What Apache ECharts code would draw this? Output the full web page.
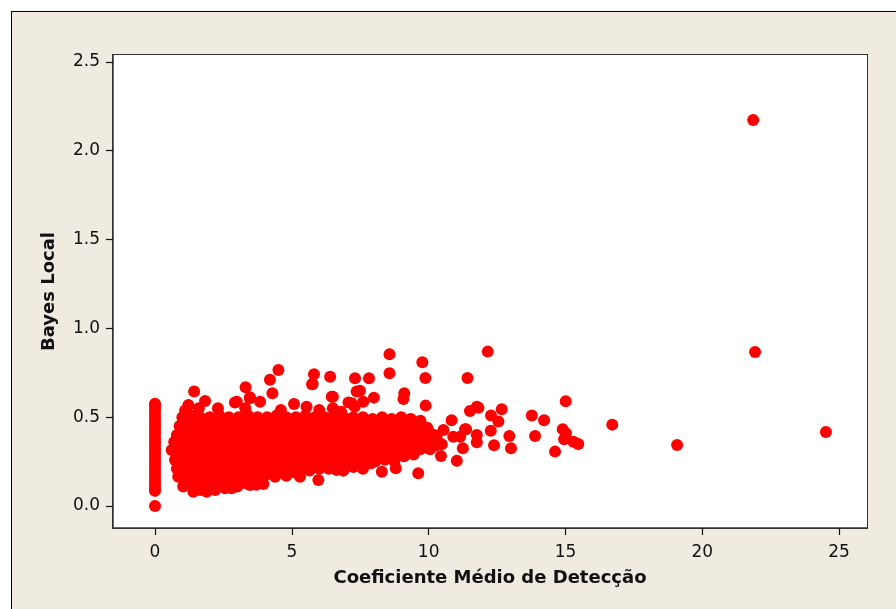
<!DOCTYPE html>
<html>
<head>
<meta charset="utf-8">
<script src="https://cdn.jsdelivr.net/npm/echarts@6/dist/echarts.min.js"></script>
<style>
  html, body { margin: 0; padding: 0; background: #fff; overflow: hidden; }
  #frame { position: absolute; left: 11px; top: 11px; width: 1000px; height: 1000px;
           border: 1px solid #000; background: #EFEBE1; }
  #plot { position: absolute; left: 112px; top: 54px; width: 756px; height: 475px;
          box-sizing: border-box; border: 1.5px solid #333; background: #fff; }
  #main { position: absolute; left: 0; top: 0; width: 896px; height: 609px; }
</style>
</head>
<body>
<div id="frame"></div>
<div id="plot"></div>
<div id="main"></div>
<script>
// tick labels
var xTicks = [0, 5, 10, 15, 20, 25];
var yTicks = [0, 0.5, 1.0, 1.5, 2.0, 2.5];

// pontos com coeficiente zero (coluna em x = 0)
var zeroColumn = [
  [0, 0.0], [0, 0.085], [0, 0.10], [0, 0.12], [0, 0.14], [0, 0.16], [0, 0.18], [0, 0.20],
  [0, 0.22], [0, 0.24], [0, 0.26], [0, 0.28], [0, 0.30], [0, 0.32], [0, 0.34], [0, 0.36],
  [0, 0.38], [0, 0.40], [0, 0.42], [0, 0.44], [0, 0.46], [0, 0.48], [0, 0.50], [0, 0.52],
  [0, 0.54], [0, 0.56], [0, 0.575]
];

// nuvem principal, parte de baixo
var cloudLow = [
  [1.03, 0.109], [1.4, 0.08], [1.65, 0.09], [1.89, 0.08], [2.2, 0.09], [2.56, 0.1], [2.8, 0.1],
  [3.01, 0.109], [3.47, 0.118], [3.7, 0.12], [3.96, 0.124],
  [0.85, 0.165], [1.15, 0.15], [1.5, 0.15], [1.85, 0.14], [2.2, 0.15], [2.55, 0.15], [2.9, 0.16],
  [3.25, 0.15], [3.6, 0.16], [3.95, 0.16], [4.39, 0.165], [4.8, 0.17], [5.3, 0.165], [5.97, 0.146],
  [0.8, 0.21], [1.1, 0.2], [1.45, 0.21], [1.8, 0.2], [2.15, 0.2], [2.5, 0.21], [2.85, 0.2],
  [3.2, 0.2], [3.55, 0.21], [3.9, 0.2], [4.25, 0.21], [4.6, 0.2], [4.95, 0.21], [5.3, 0.22],
  [5.65, 0.2], [6.0, 0.21], [6.35, 0.21], [6.64, 0.203], [6.88, 0.199], [7.25, 0.22], [7.6, 0.21],
  [8.29, 0.193], [8.8, 0.212], [9.62, 0.184],
  [0.73, 0.259], [1.05, 0.25], [1.4, 0.26], [1.75, 0.25], [2.1, 0.25], [2.45, 0.26], [2.8, 0.25],
  [3.15, 0.25], [3.5, 0.26], [3.85, 0.25], [4.2, 0.25], [4.55, 0.26], [4.9, 0.25], [5.25, 0.25],
  [5.6, 0.26], [5.95, 0.25], [6.3, 0.25], [6.65, 0.26], [7.0, 0.25], [7.35, 0.25], [7.7, 0.26],
  [8.05, 0.25], [8.4, 0.26], [8.75, 0.25], [9.1, 0.28], [9.45, 0.29]
];

// nuvem principal, parte do meio
var cloudMid = [
  [0.61, 0.315], [0.95, 0.3], [1.3, 0.3], [1.65, 0.31], [2.0, 0.3], [2.35, 0.3], [2.7, 0.31],
  [3.05, 0.3], [3.4, 0.3], [3.75, 0.31], [4.1, 0.3], [4.45, 0.3], [4.8, 0.31], [5.15, 0.3],
  [5.5, 0.3], [5.85, 0.31], [6.2, 0.3], [6.55, 0.3], [6.9, 0.31], [7.25, 0.3], [7.6, 0.3],
  [7.95, 0.31], [8.3, 0.3], [8.65, 0.3], [9.0, 0.31], [9.35, 0.31], [9.7, 0.32], [10.05, 0.32],
  [0.7, 0.36], [1.0, 0.35], [1.35, 0.35], [1.7, 0.36], [2.05, 0.35], [2.4, 0.35], [2.75, 0.36],
  [3.1, 0.35], [3.45, 0.35], [3.8, 0.36], [4.15, 0.35], [4.5, 0.35], [4.85, 0.36], [5.2, 0.35],
  [5.55, 0.35], [5.9, 0.36], [6.25, 0.35], [6.6, 0.35], [6.95, 0.36], [7.3, 0.35], [7.65, 0.35],
  [8.0, 0.36], [8.35, 0.35], [8.7, 0.35], [9.05, 0.36], [9.4, 0.35], [9.75, 0.36], [10.1, 0.36],
  [0.8, 0.4], [1.1, 0.4], [1.45, 0.41], [1.8, 0.4], [2.15, 0.4], [2.5, 0.41], [2.85, 0.4],
  [3.2, 0.4], [3.55, 0.41], [3.9, 0.4], [4.25, 0.4], [4.6, 0.41], [4.95, 0.4], [5.3, 0.4],
  [5.65, 0.41], [6.0, 0.4], [6.35, 0.4], [6.7, 0.41], [7.05, 0.4], [7.4, 0.4], [7.75, 0.41],
  [8.1, 0.4], [8.45, 0.4], [8.8, 0.41], [9.15, 0.4], [9.5, 0.4], [9.85, 0.41], [10.2, 0.4]
];

// nuvem principal, parte de cima
var cloudHigh = [
  [0.9, 0.45], [1.2, 0.45], [1.55, 0.46], [1.9, 0.45], [2.25, 0.45], [2.6, 0.46], [2.95, 0.45],
  [3.3, 0.45], [3.65, 0.46], [4.0, 0.45], [4.35, 0.45], [4.7, 0.46], [5.05, 0.45], [5.4, 0.45],
  [5.75, 0.46], [6.1, 0.45], [6.45, 0.45], [6.8, 0.46], [7.15, 0.45], [7.5, 0.45], [7.85, 0.46],
  [8.2, 0.45], [8.55, 0.45], [8.9, 0.46], [9.25, 0.45], [9.6, 0.44], [9.95, 0.44],
  [1.0, 0.5], [1.3, 0.51], [1.65, 0.5], [2.0, 0.5], [2.35, 0.51], [2.7, 0.5], [3.05, 0.5],
  [3.4, 0.51], [3.75, 0.5], [4.1, 0.5], [4.45, 0.51], [4.8, 0.5], [5.15, 0.5], [5.5, 0.51],
  [5.85, 0.5], [6.2, 0.5], [6.55, 0.51], [6.9, 0.5], [7.25, 0.5], [7.6, 0.5], [7.95, 0.49],
  [8.3, 0.5], [8.65, 0.49], [9.0, 0.5], [9.35, 0.49], [9.7, 0.48],
  [1.1, 0.537], [1.22, 0.569], [1.83, 0.591], [1.6, 0.55], [2.3, 0.55], [2.92, 0.582],
  [2.99, 0.587], [3.47, 0.606], [3.84, 0.587], [3.3, 0.55], [4.6, 0.54], [5.08, 0.574],
  [5.54, 0.559], [6.0, 0.54], [6.5, 0.55], [7.07, 0.582], [7.19, 0.578], [7.61, 0.587],
  [6.8, 0.53], [7.3, 0.56], [8.0, 0.61], [9.08, 0.602], [9.89, 0.565]
];

// pontos intercalados que fecham o miolo da nuvem
var cloudCore = [
  [1.2, 0.125], [1.55, 0.12], [1.9, 0.125], [2.25, 0.12], [2.6, 0.13], [2.95, 0.125],
  [3.3, 0.13], [3.65, 0.135],
  [0.97, 0.175], [1.32, 0.18], [1.67, 0.175], [2.02, 0.17], [2.37, 0.175], [2.72, 0.18],
  [3.07, 0.175], [3.42, 0.175], [3.77, 0.18], [4.12, 0.18], [4.47, 0.185], [4.82, 0.19], [5.1, 0.19],
  [0.92, 0.225], [1.27, 0.23], [1.62, 0.225], [1.97, 0.225], [2.32, 0.23], [2.67, 0.225],
  [3.02, 0.225], [3.37, 0.23], [3.72, 0.225], [4.07, 0.225], [4.42, 0.23], [4.77, 0.225],
  [5.12, 0.225], [5.47, 0.235], [5.82, 0.225], [6.17, 0.23], [6.52, 0.225], [6.87, 0.23],
  [7.22, 0.235], [7.57, 0.235], [7.9, 0.24],
  [0.88, 0.275], [1.22, 0.28], [1.57, 0.275], [1.92, 0.275], [2.27, 0.28], [2.62, 0.275],
  [2.97, 0.275], [3.32, 0.28], [3.67, 0.275], [4.02, 0.275], [4.37, 0.28], [4.72, 0.275],
  [5.07, 0.275], [5.42, 0.28], [5.77, 0.275], [6.12, 0.275], [6.47, 0.28], [6.82, 0.275],
  [7.17, 0.275], [7.52, 0.28], [7.87, 0.275], [8.22, 0.28], [8.57, 0.275], [8.92, 0.285], [9.27, 0.3],
  [0.78, 0.325], [1.12, 0.325], [1.47, 0.33], [1.82, 0.325], [2.17, 0.325], [2.52, 0.33],
  [2.87, 0.325], [3.22, 0.325], [3.57, 0.33], [3.92, 0.325], [4.27, 0.325], [4.62, 0.33],
  [4.97, 0.325], [5.32, 0.325], [5.67, 0.33], [6.02, 0.325], [6.37, 0.325], [6.72, 0.33],
  [7.07, 0.325], [7.42, 0.325], [7.77, 0.33], [8.12, 0.325], [8.47, 0.325], [8.82, 0.33],
  [9.17, 0.335], [9.52, 0.335], [9.87, 0.34], [10.25, 0.34],
  [0.82, 0.375], [1.17, 0.375], [1.52, 0.38], [1.87, 0.375], [2.22, 0.375], [2.57, 0.38],
  [2.92, 0.375], [3.27, 0.375], [3.62, 0.38], [3.97, 0.375], [4.32, 0.375], [4.67, 0.38],
  [5.02, 0.375], [5.37, 0.375], [5.72, 0.38], [6.07, 0.375], [6.42, 0.375], [6.77, 0.38],
  [7.12, 0.375], [7.47, 0.375], [7.82, 0.38], [8.17, 0.375], [8.52, 0.375], [8.87, 0.38],
  [9.22, 0.375], [9.57, 0.38], [9.92, 0.385], [10.3, 0.38],
  [0.95, 0.425], [1.27, 0.425], [1.62, 0.43], [1.97, 0.425], [2.32, 0.425], [2.67, 0.43],
  [3.02, 0.425], [3.37, 0.425], [3.72, 0.43], [4.07, 0.425], [4.42, 0.425], [4.77, 0.43],
  [5.12, 0.425], [5.47, 0.425], [5.82, 0.43], [6.17, 0.425], [6.52, 0.425], [6.87, 0.43],
  [7.22, 0.425], [7.57, 0.425], [7.92, 0.43], [8.27, 0.425], [8.62, 0.43], [8.97, 0.425],
  [9.32, 0.425], [9.67, 0.42], [10.0, 0.42],
  [1.12, 0.475], [1.47, 0.475], [1.82, 0.48], [2.17, 0.475], [2.52, 0.475], [2.87, 0.48],
  [3.22, 0.475], [3.57, 0.475], [3.92, 0.48], [4.27, 0.475], [4.62, 0.475], [4.97, 0.48],
  [5.32, 0.475], [5.67, 0.475], [6.02, 0.48], [6.37, 0.475], [6.72, 0.475], [7.07, 0.48],
  [7.42, 0.475], [7.77, 0.47], [8.12, 0.475], [8.47, 0.47], [8.82, 0.47], [9.17, 0.47], [9.5, 0.465]
];

// pontos dispersos acima da nuvem
var scatterUpper = [
  [1.43, 0.644], [3.31, 0.668], [3.47, 0.612], [4.2, 0.71], [4.29, 0.634], [4.51, 0.766],
  [5.74, 0.685], [5.81, 0.741], [5.76, 0.687], [6.4, 0.728], [6.46, 0.615], [6.5, 0.615],
  [7.31, 0.719], [7.37, 0.644], [7.49, 0.649], [7.82, 0.719], [8.57, 0.747], [8.57, 0.854],
  [9.11, 0.634], [9.77, 0.809], [9.88, 0.72]
];

// cauda à direita
var tailRight = [
  [10.45, 0.282], [10.48, 0.347], [10.54, 0.428], [10.84, 0.483], [10.9, 0.39], [11.03, 0.255],
  [11.15, 0.39], [11.25, 0.325], [11.33, 0.432], [11.37, 0.432], [11.42, 0.72], [11.51, 0.535],
  [11.76, 0.359], [11.76, 0.40], [11.76, 0.559], [11.82, 0.553], [12.16, 0.869], [12.27, 0.424],
  [12.28, 0.51], [12.39, 0.342], [12.55, 0.475], [12.67, 0.544], [12.95, 0.394], [13.01, 0.325],
  [13.77, 0.51], [13.89, 0.394], [14.22, 0.483], [14.62, 0.306], [14.9, 0.432], [14.95, 0.376],
  [15.01, 0.59], [15.02, 0.41], [15.29, 0.362], [15.47, 0.349], [16.71, 0.458], [19.08, 0.343],
  [21.86, 2.173], [21.93, 0.867], [24.52, 0.417]
];

var allPoints = [].concat(zeroColumn, cloudLow, cloudMid, cloudCore, cloudHigh, scatterUpper, tailRight);

var chart = echarts.init(document.getElementById('main'));

var option = {
  backgroundColor: 'transparent',
  animation: false,
  grid: { left: 113, top: 55, right: 29, bottom: 81 },
  xAxis: {
    type: 'value',
    min: -1.535, max: 26.02,
    name: 'Coeficiente Médio de Detecção',
    nameLocation: 'middle',
    nameGap: 41,
    nameTextStyle: { fontFamily: 'DejaVu Sans', fontWeight: 'bold', fontSize: 18, color: '#111' },
    axisLine: { show: true, onZero: false, lineStyle: { color: '#333', width: 1.5 } },
    splitLine: { show: false },
    axisTick: { show: true, length: 7, lineStyle: { color: '#111', width: 1.2 }, customValues: xTicks },
    axisLabel: {
      customValues: xTicks, margin: 16,
      fontFamily: 'DejaVu Sans', fontSize: 17, color: '#111'
    }
  },
  yAxis: {
    type: 'value',
    min: -0.124, max: 2.539,
    name: 'Bayes Local',
    nameLocation: 'middle',
    nameGap: 55,
    nameTextStyle: { fontFamily: 'DejaVu Sans', fontWeight: 'bold', fontSize: 18, color: '#111' },
    axisLine: { show: true, onZero: false, lineStyle: { color: '#333', width: 1.5 } },
    splitLine: { show: false },
    axisTick: { show: true, length: 7, lineStyle: { color: '#111', width: 1.2 }, customValues: yTicks },
    axisLabel: {
      customValues: yTicks, margin: 13,
      fontFamily: 'DejaVu Sans', fontSize: 17, color: '#111',
      formatter: function (v) { return v.toFixed(1); }
    }
  },
  series: [{
    type: 'scatter',
    data: allPoints,
    symbol: 'circle',
    symbolSize: 12,
    itemStyle: { color: '#FF0000', opacity: 1 }
  }]
};

chart.setOption(option);
</script>
</body>
</html>
